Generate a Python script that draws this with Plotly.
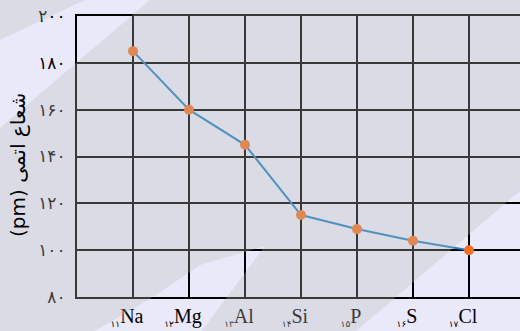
import plotly.graph_objects as go

# Daten: Atomradius der Elemente der dritten Periode
symbole = ["Na", "Mg", "Al", "Si", "P", "S", "Cl"]
ordnungszahlen = ["۱۱", "۱۲", "۱۳", "۱۴", "۱۵", "۱۶", "۱۷"]
radius_pm = [185, 160, 145, 115, 109, 104, 100]
y_ticks = [80, 100, 120, 140, 160, 180, 200]
y_ticktext = ["۸۰", "۱۰۰", "۱۲۰", "۱۴۰", "۱۶۰", "۱۸۰", "۲۰۰"]
y_titel = "(pm) شعاع اتمی"

W, H = 520, 331
L, R, T, B = 77, 0, 16, 34
plot_w = W - L - R
plot_h = H - T - B


def px2paper(pts):
    # pixel -> paper coordinates
    return [((x - L) / plot_w, (H - B - y) / plot_h) for x, y in pts]


def ring(pts, clockwise):
    a = 0
    for i in range(len(pts)):
        x1, y1 = pts[i]
        x2, y2 = pts[(i + 1) % len(pts)]
        a += x1 * y2 - x2 * y1
    if (a < 0) != clockwise:
        pts = pts[::-1]
    return "M " + " L ".join(f"{x:.4f},{y:.4f}" for x, y in pts) + " Z"


# heller Hintergrund mit grauem Band darueber (Loecher = helle Streifen)
rahmen = px2paper([(-5, -5), (W + 5, -5), (W + 5, H + 5), (-5, H + 5)])
streifen_oben = px2paper([(0, 40), (85, 0), (150, 0), (0, 128)])
keil_unten = px2paper([(93, 332), (153, 297), (200, 265), (265, 246), (227, 297), (201, 332)])
dreieck_rechts = px2paper([(355, 332), (521, 190), (521, 332)])
pfad = ring(rahmen, True) + " " + " ".join(
    ring(p, False) for p in [streifen_oben, keil_unten, dreieck_rechts])

fig = go.Figure()
fig.add_trace(go.Scatter(
    x=symbole, y=radius_pm, mode="lines+markers",
    line=dict(color="#2080c0", width=2),
    marker=dict(color="#f07028", size=10),
    cliponaxis=False, showlegend=False, hoverinfo="skip"))

tick_labels = [f"<sub><span style='font-size:9px'>{n}</span></sub>{s}"
               for n, s in zip(ordnungszahlen, symbole)]

fig.update_layout(
    width=W, height=H,
    margin=dict(l=L, r=R, t=T, b=B, autoexpand=False),
    paper_bgcolor="#e9e9fa", plot_bgcolor="rgba(0,0,0,0)",
    font=dict(family="Liberation Serif, DejaVu Sans", color="black"),
    xaxis=dict(type="category", range=[-1, plot_w / 56 - 1], automargin=False,
               tickvals=symbole, ticktext=tick_labels,
               tickfont=dict(size=20), ticklabelshift=-6, ticklabelstandoff=0,
               showgrid=True, gridcolor="black", gridwidth=2,
               showline=True, linecolor="black", linewidth=2, mirror=True,
               ticks="", fixedrange=True),
    yaxis=dict(range=[80, 200], tickvals=y_ticks, ticktext=y_ticktext, automargin=False,
               tickfont=dict(size=17, family="DejaVu Sans"), ticklabelstandoff=6,
               showgrid=True, gridcolor="black", gridwidth=2, zeroline=False,
               showline=True, linecolor="black", linewidth=2, ticks="",
               fixedrange=True),
    annotations=[dict(text=y_titel, xref="paper", yref="paper",
                      x=(18 - L) / plot_w, y=(H - B - 165) / plot_h,
                      xanchor="center", yanchor="middle",
                      textangle=-90, showarrow=False,
                      font=dict(size=20, family="DejaVu Sans", color="black"))],
    shapes=[dict(type="path", path=pfad, xref="paper", yref="paper",
                 fillcolor="rgba(190,190,185,0.3)", line=dict(width=0),
                 layer="above")],
)

# Browser-Standardrand der Seite entfernen, keine Werkzeugleiste
fig.write_html("out.html", config={"displayModeBar": False},
               post_script="document.body.style.margin='0';")
